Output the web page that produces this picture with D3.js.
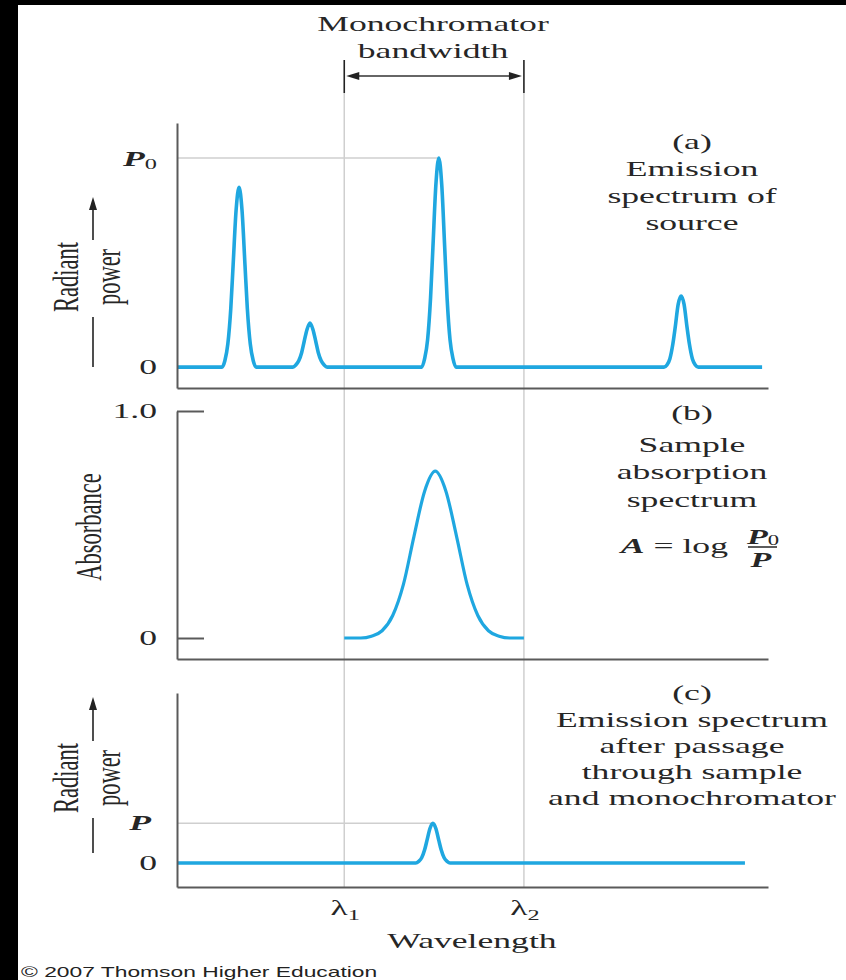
<!DOCTYPE html>
<html>
<head>
<meta charset="utf-8">
<script src="https://cdn.jsdelivr.net/npm/d3@7"></script>
<style>
  body { margin: 0; background: #000; }
  svg { display: block; }
</style>
</head>
<body>
<script>
// ---- data (wavelength in arbitrary units 0-100) ----
var lambdaMarks = [28.3, 58.7];          // monochromator bandwidth edges
var lambdaNames = ["1", "2"];

// (a) source emission, relative to P0
var sourceSpectrum = [
  [0, 0], [7.6, 0], [8.1, 0.03], [8.6, 0.11], [9.1, 0.28], [9.5, 0.49], [10.0, 0.75], [10.5, 0.86],
  [11.0, 0.75], [11.5, 0.49], [11.9, 0.28], [12.4, 0.11], [12.9, 0.03], [13.4, 0],
  [19.6, 0], [20.1, 0.01], [20.6, 0.03], [21.1, 0.07], [21.5, 0.12], [22.0, 0.18], [22.5, 0.21],
  [23.0, 0.18], [23.5, 0.12], [23.9, 0.07], [24.4, 0.03], [24.9, 0.01], [25.4, 0],
  [41.4, 0], [41.9, 0.04], [42.4, 0.13], [42.9, 0.33], [43.3, 0.57], [43.8, 0.87], [44.3, 1.0],
  [44.8, 0.87], [45.3, 0.57], [45.7, 0.33], [46.2, 0.13], [46.7, 0.04], [47.2, 0],
  [82.4, 0], [82.9, 0.01], [83.4, 0.04], [83.9, 0.11], [84.3, 0.19], [84.8, 0.30], [85.3, 0.34],
  [85.8, 0.30], [86.3, 0.19], [86.7, 0.11], [87.2, 0.04], [87.7, 0.01], [88.2, 0],
  [99.0, 0]
];
var p0Peak = 44.3;

// (b) sample absorbance
var absorbance = [
  [28.3, 0], [31.1, 0], [32.9, 0.008], [34.7, 0.032], [36.5, 0.099], [38.3, 0.235], [40.1, 0.448],
  [41.9, 0.647], [43.7, 0.735], [45.5, 0.647], [47.3, 0.448], [49.1, 0.235], [50.9, 0.099],
  [52.7, 0.032], [54.5, 0.008], [56.3, 0], [58.7, 0]
];

// (c) transmitted through sample and monochromator
var transmitted = [
  [0, 0], [40.4, 0], [40.9, 0.008], [41.4, 0.025], [41.9, 0.063], [42.3, 0.108], [42.8, 0.165],
  [43.3, 0.19], [43.8, 0.165], [44.3, 0.108], [44.7, 0.063], [45.2, 0.025], [45.7, 0.008],
  [46.2, 0], [96.1, 0]
];
var pPeak = 43.3, pLevel = 0.19;

var captionA = ["(a)", "Emission", "spectrum of", "source"];
var captionB = ["(b)", "Sample", "absorption", "spectrum"];
var captionC = ["(c)", "Emission spectrum", "after passage", "through sample", "and monochromator"];

// ---- layout ----
var W = 846, H = 980;
var K = 1.62;              // the original is stretched sideways; so is its lettering
var serif = "'Liberation Serif', 'Times New Roman', serif";
var ink = "#262626", axisInk = "#5a5a5a", blue = "#1fa7e0", guide = "#cfcfcf";

var svg = d3.select("body").append("svg").attr("width", W).attr("height", H);
svg.append("rect").attr("width", W).attr("height", H).attr("fill", "#000");
svg.append("rect").attr("x", 18).attr("y", 5).attr("width", W - 18).attr("height", H - 5).attr("fill", "#fff");

var x = d3.scaleLinear().domain([0, 100]).range([177, 768]);
var yA = d3.scaleLinear().domain([-0.1, 1.167]).range([388, 123]);
var yB = d3.scaleLinear().domain([-0.0925, 1.0]).range([659, 411]);
var yC = d3.scaleLinear().domain([-0.115, 0.813]).range([887, 693]);

// helper for stretched text
function txt(parent, px, py, anchor, size, rotate) {
  return parent.append("text")
    .attr("transform", "translate(" + px + "," + py + ") scale(" + K + ",1)" + (rotate ? " rotate(-90)" : ""))
    .attr("text-anchor", anchor)
    .attr("font-family", serif)
    .attr("font-size", size)
    .attr("fill", ink);
}

// ---- guide lines ----
lambdaMarks.forEach(function (l) {
  svg.append("line").attr("x1", x(l)).attr("x2", x(l)).attr("y1", 93).attr("y2", yC.range()[0])
    .attr("stroke", guide).attr("stroke-width", 1.5);
  svg.append("line").attr("x1", x(l)).attr("x2", x(l)).attr("y1", 60).attr("y2", 93)
    .attr("stroke", "#222").attr("stroke-width", 1.6);
});
svg.append("line").attr("x1", x(0)).attr("x2", x(p0Peak)).attr("y1", yA(1)).attr("y2", yA(1))
  .attr("stroke", guide).attr("stroke-width", 1.5);
svg.append("line").attr("x1", x(0)).attr("x2", x(pPeak)).attr("y1", yC(pLevel)).attr("y2", yC(pLevel))
  .attr("stroke", guide).attr("stroke-width", 1.5);

// bandwidth arrow
var ay = 76, bx1 = x(lambdaMarks[0]) + 2, bx2 = x(lambdaMarks[1]) - 2;
svg.append("line").attr("x1", bx1 + 6).attr("x2", bx2 - 6).attr("y1", ay).attr("y2", ay)
  .attr("stroke", "#333").attr("stroke-width", 1.6);
svg.append("path").attr("d", "M" + bx1 + "," + ay + "L" + (bx1 + 13) + "," + (ay - 4) + "L" + (bx1 + 13) + "," + (ay + 4) + "Z").attr("fill", "#222");
svg.append("path").attr("d", "M" + bx2 + "," + ay + "L" + (bx2 - 13) + "," + (ay - 4) + "L" + (bx2 - 13) + "," + (ay + 4) + "Z").attr("fill", "#222");
txt(svg, 433, 31, "middle", 22).text("Monochromator");
txt(svg, 433, 58, "middle", 22).text("bandwidth");

// ---- curves ----
function curve(yScale) {
  return d3.line().x(function (d) { return x(d[0]); }).y(function (d) { return yScale(d[1]); }).curve(d3.curveMonotoneX);
}
svg.append("path").datum(sourceSpectrum).attr("d", curve(yA))
  .attr("fill", "none").attr("stroke", blue).attr("stroke-width", 3.6).attr("stroke-linejoin", "round");
svg.append("path").datum(absorbance).attr("d", curve(yB))
  .attr("fill", "none").attr("stroke", blue).attr("stroke-width", 3.2).attr("stroke-linejoin", "round");
svg.append("path").datum(transmitted).attr("d", curve(yC))
  .attr("fill", "none").attr("stroke", blue).attr("stroke-width", 3.6).attr("stroke-linejoin", "round");

// ---- axes ----
[yA, yB, yC].forEach(function (yScale) {
  var left = svg.append("g").attr("transform", "translate(" + x(0) + ",0)")
    .call(d3.axisLeft(yScale).tickValues(yScale === yB ? [0, 1] : []).tickSizeInner(-27).tickSizeOuter(0).tickFormat(""));
  var bottom = svg.append("g").attr("transform", "translate(0," + yScale.range()[0] + ")")
    .call(d3.axisBottom(x).tickValues([]).tickSizeOuter(0));
  [left, bottom].forEach(function (g) {
    g.attr("color", axisInk);
    g.selectAll("path, line").attr("stroke-width", 2);
  });
});

// tick labels
var lx = 157;
var t = txt(svg, lx, yA(1) + 8, "end", 22).attr("font-style", "italic").attr("font-weight", "bold");
t.append("tspan").text("P");
t.append("tspan").attr("font-size", 15).attr("font-style", "normal").attr("font-weight", "normal").attr("dy", 3).text("0");
txt(svg, lx, yA(0) + 7, "end", 22).text("0");
txt(svg, lx, yB(1) + 7, "end", 22).text("1.0");
txt(svg, lx, yB(0) + 7, "end", 22).text("0");
txt(svg, lx - 6, yC(pLevel) + 7, "end", 22).attr("font-style", "italic").attr("font-weight", "bold").text("P");
txt(svg, lx, yC(0) + 7, "end", 22).text("0");

// ---- y titles ----
function powerTitle(cy, top, bottom) {
  txt(svg, 78, cy, "middle", 22.5, true).text("Radiant");
  txt(svg, 120, cy, "middle", 22.5, true).text("power");
  svg.append("line").attr("x1", 93).attr("x2", 93).attr("y1", cy - 37).attr("y2", top + 10)
    .attr("stroke", "#222").attr("stroke-width", 1.6);
  svg.append("path").attr("d", "M93," + top + "L89," + (top + 13) + "L97," + (top + 13) + "Z").attr("fill", "#222");
  svg.append("line").attr("x1", 93).attr("x2", 93).attr("y1", cy + 40).attr("y2", bottom)
    .attr("stroke", "#222").attr("stroke-width", 1.6);
}
powerTitle(277, 197, 367);
powerTitle(778, 697, 853);
txt(svg, 101, 527, "middle", 22.5, true).text("Absorbance");

// ---- captions ----
function caption(lines, baselines) {
  lines.forEach(function (s, i) { txt(svg, 692, baselines[i], "middle", 22).text(s); });
}
caption(captionA, [149, 176, 203, 230]);
caption(captionB, [420, 452, 479, 507]);
caption(captionC, [700, 727, 753, 779, 805]);

// A = log P0/P
var f = txt(svg, 728, 553, "end", 22);
f.append("tspan").attr("font-style", "italic").attr("font-weight", "bold").text("A");
f.append("tspan").text(" = log");
svg.append("line").attr("x1", 748).attr("x2", 777).attr("y1", 547).attr("y2", 547).attr("stroke", ink).attr("stroke-width", 1.5);
var num = txt(svg, 763, 544, "middle", 21);
num.append("tspan").attr("font-style", "italic").attr("font-weight", "bold").text("P");
num.append("tspan").attr("font-size", 14).attr("dy", 1).text("0");
txt(svg, 761, 567, "middle", 21).attr("font-style", "italic").attr("font-weight", "bold").text("P");

// ---- x labels ----
lambdaMarks.forEach(function (l, i) {
  var s = txt(svg, x(l) + 1, 915, "middle", 22);
  s.append("tspan").text("λ");
  s.append("tspan").attr("font-size", 15).attr("dy", 5).text(lambdaNames[i]);
});
txt(svg, 472, 948, "middle", 22).text("Wavelength");

svg.append("text")
  .attr("transform", "translate(21,977) scale(1.63,1)")
  .attr("font-family", "'Liberation Sans', Arial, sans-serif")
  .attr("font-size", 14).attr("fill", "#222")
  .text("© 2007 Thomson Higher Education");
</script>
</body>
</html>
